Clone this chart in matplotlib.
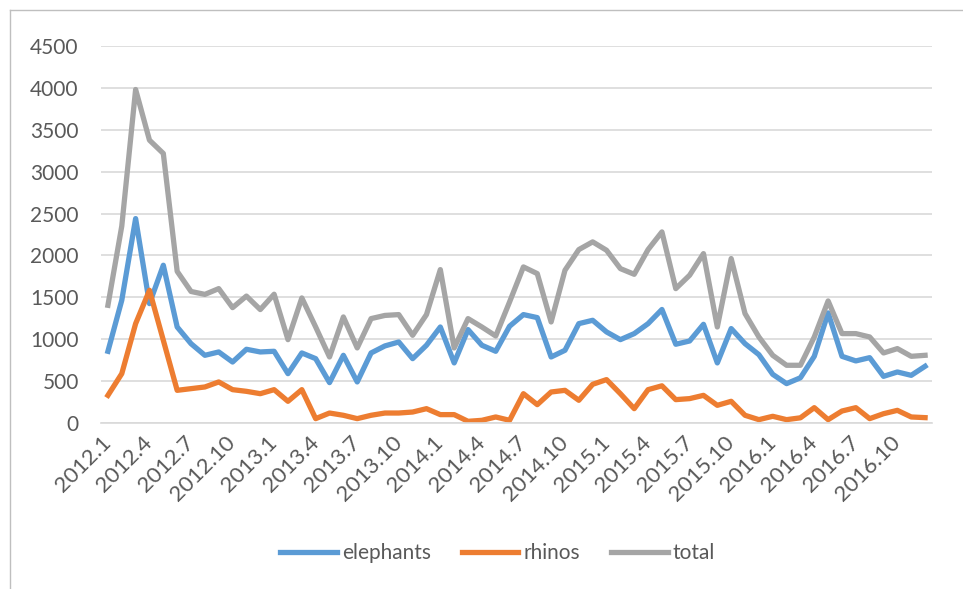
import matplotlib.pyplot as plt
from matplotlib.lines import Line2D

plt.rcParams['font.family'] = ['Lato', 'DejaVu Sans']

# monthly series, 2012.1 - 2016.12
years = [2012, 2013, 2014, 2015, 2016]
months = [f"{y}.{m}" for y in years for m in range(1, 13)]

elephants = [856, 1465, 2440, 1425, 1883, 1146, 947, 808, 848, 728,
             880, 848, 856, 589, 836, 768, 482, 808, 490, 836,
             920, 967, 768, 928, 1146, 717, 1115, 928, 856, 1155,
             1294, 1258, 788, 868, 1186, 1226, 1087, 995, 1067, 1186,
             1355, 940, 979, 1178, 717, 1127, 947, 816, 581, 470,
             540, 796, 1314, 796, 741, 780, 557, 609, 569, 677]

rhinos = [330, 589, 1186, 1584, 987, 390, 410, 430, 490, 398,
          378, 350, 398, 259, 398, 52, 119, 92, 52, 92,
          119, 119, 131, 171, 100, 100, 20, 32, 72, 32,
          350, 219, 370, 390, 271, 462, 518, 350, 171, 398,
          444, 279, 291, 330, 211, 259, 92, 40, 80, 40,
          62, 183, 40, 143, 183, 52, 111, 151, 72, 64]

total = [1405, 2350, 3981, 3376, 3217, 1810, 1570, 1535, 1604, 1377,
         1515, 1354, 1537, 995, 1493, 1146, 788, 1266, 896, 1246,
         1284, 1294, 1047, 1294, 1831, 896, 1246, 1146, 1039, 1445,
         1863, 1783, 1206, 1823, 2070, 2162, 2062, 1843, 1775, 2070,
         2281, 1604, 1764, 2022, 1146, 1963, 1306, 1027, 808, 689,
         689, 1027, 1457, 1067, 1067, 1027, 836, 888, 796, 808]

series = [('elephants', elephants, '#5B9BD5'),
          ('rhinos', rhinos, '#ED7D31'),
          ('total', total, '#A5A5A5')]

text_color = '#595959'
grid_color = '#D9D9D9'

fig = plt.figure(figsize=(9.63, 5.89), dpi=100)
ax = fig.add_axes([101 / 963, 166 / 589, 831 / 963, 377 / 589])

x = list(range(len(months)))
for name, vals, col in series:
    ax.plot(x, vals, color=col, lw=3.8, label=name)

ax.set_xlim(-0.5, len(months) - 0.5)
ax.set_ylim(0, 4500)
ax.set_yticks(range(0, 4501, 500))
ax.yaxis.grid(True, color=grid_color, lw=1.2)
ax.set_axisbelow(True)

ax.set_xticks(x[::3])
ax.set_xticklabels(months[::3], rotation=45, ha='right', va='center',
                   rotation_mode='anchor')

ax.tick_params(axis='y', length=0, pad=16, labelsize=15, labelcolor=text_color)
ax.tick_params(axis='x', length=0, pad=12, labelsize=16, labelcolor=text_color)

for s in ['top', 'right', 'left']:
    ax.spines[s].set_visible(False)
ax.spines['bottom'].set_color(grid_color)
ax.spines['bottom'].set_linewidth(1.2)

leg = fig.legend(loc='center', bbox_to_anchor=(0.517, 1 - 553 / 589), ncol=3,
                 frameon=False, fontsize=15, handlelength=2.7,
                 handletextpad=0.25, columnspacing=1.5)
for t in leg.get_texts():
    t.set_color(text_color)

# chart area border (only left and top visible in the crop)
fig.add_artist(Line2D([10 / 963, 10 / 963], [0, 1 - 10 / 589], color='#BFBFBF', lw=1))
fig.add_artist(Line2D([10 / 963, 1], [1 - 10 / 589, 1 - 10 / 589], color='#BFBFBF', lw=1))

fig.savefig('out.png', dpi=100)
